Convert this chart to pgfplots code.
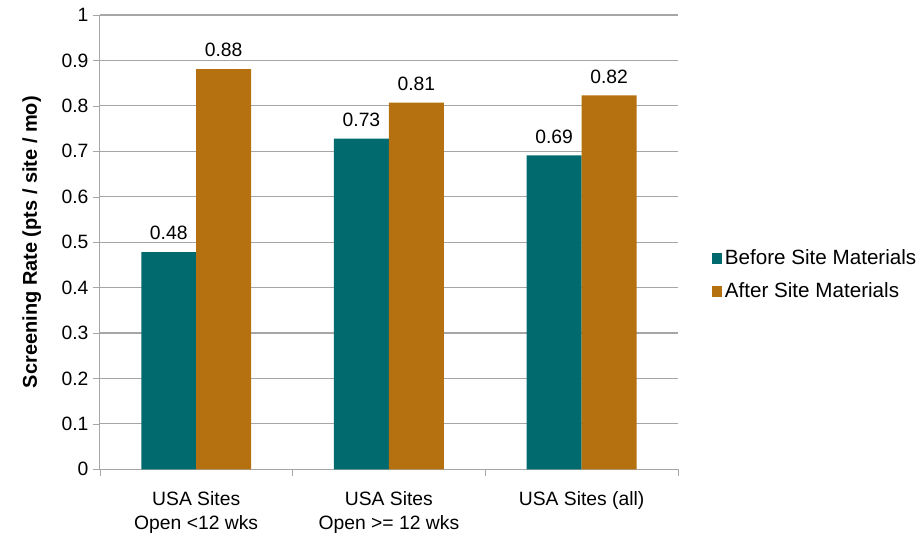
\documentclass[border=0pt]{standalone}
\usepackage{pgfplots}
\pgfplotsset{compat=1.18}
\usepackage{fontspec}
\setmainfont{Liberation Sans}
\definecolor{tealbar}{HTML}{016A6E}
\definecolor{orangebar}{HTML}{B5700F}
\definecolor{gridgray}{HTML}{A6A6A6}

\begin{document}
\begin{tikzpicture}
\begin{axis}[
    width=434.25pt, height=341.25pt, scale only axis,
    ybar=0pt, bar width=41.25pt,
    xmin=-0.5, xmax=2.5,
    ymin=0, ymax=1,
    xtick={0,1,2},
    xticklabels={{USA Sites\\Open <12 wks},{USA Sites\\Open >= 12 wks},{USA Sites (all)}},
    x tick label style={align=center, font=\fontsize{14.5}{18}\selectfont, yshift=-8pt},
    minor xtick={-0.5,0.5,1.5,2.5},
    major x tick style={draw=none},
    minor x tick style={gridgray},
    tick align=outside,
    minor tick length=5pt,
    major tick length=5pt,
    ytick distance=0.1,
    y tick label style={font=\fontsize{14.5}{17}\selectfont,
        /pgf/number format/fixed, /pgf/number format/precision=1},
    /pgf/number format/assume math mode=true,
    y tick style={gridgray},
    ymajorgrids, grid style={gridgray, line width=0.8pt},
    axis x line*=bottom, axis y line*=left,
    axis line style={gridgray, line width=0.8pt},
    ylabel={\textbf{Screening Rate (pts / site / mo)}},
    ylabel style={font=\fontsize{15}{17}\selectfont, yshift=8.5pt},
    nodes near coords,
    nodes near coords style={font=\fontsize{14.5}{17}\selectfont, color=black,
        /pgf/number format/fixed, /pgf/number format/precision=2,
        /pgf/number format/fixed zerofill, yshift=5.5pt},
    legend cell align=left,
    legend style={at={(1,0.428)}, anchor=west, xshift=22pt, draw=none, fill=none,
        font=\fontsize{15.5}{18}\selectfont, row sep=8pt,
        /tikz/every even column/.append style={column sep=2pt}},
    legend image code/.code={\fill[#1] (0pt,-4pt) rectangle (8pt,4pt);},
]
\addplot[fill=tealbar, draw=none] coordinates {(0,0.478) (1,0.728) (2,0.691)};
\addplot[fill=orangebar, draw=none] coordinates {(0,0.881) (1,0.807) (2,0.823)};
\legend{Before Site Materials, After Site Materials}
\end{axis}
\path (current axis.south west) +(-75pt,-50.25pt) coordinate (bbA);
\path (current axis.south west) +(617.25pt,352.5pt) coordinate (bbB);
\path[use as bounding box] (bbA) rectangle (bbB);
\end{tikzpicture}
\end{document}
